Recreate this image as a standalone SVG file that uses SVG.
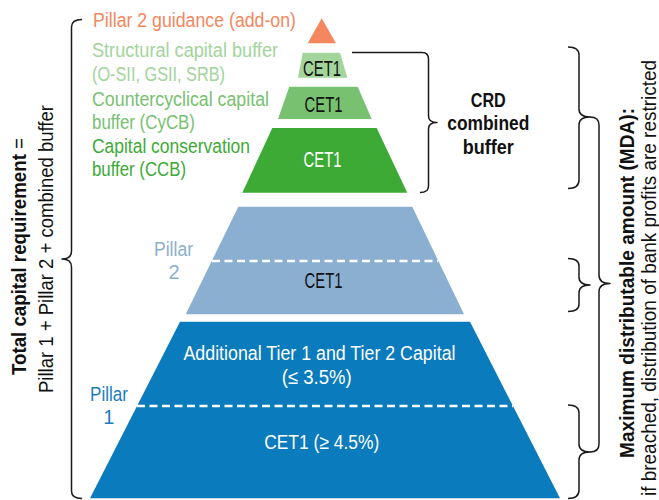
<svg xmlns="http://www.w3.org/2000/svg" width="659" height="500" viewBox="0 0 659 500">
<style>
text{font-family:"Liberation Sans",Arial,sans-serif;font-size:20px}
.c{font-size:22px;text-anchor:middle}
.m{text-anchor:middle}
.b{font-weight:bold}
.r{font-size:20px}
.br{fill:none;stroke:#1a1a1a;stroke-width:1.5;stroke-linejoin:round}
.dash{stroke:#fff;stroke-width:2.5;stroke-dasharray:8 4.5}
</style>
<rect width="659" height="500" fill="#fff"/>
<g id="p2g"><polygon points="321.7,18.3 336,43.3 307.7,43.3" fill="#F5875E"/></g>
<g id="scb"><polygon points="302.7,52.7 340,52.7 347.3,77.7 298,77.7" fill="#A2D49B"/>
<text class="c" x="322" y="75.5" textLength="38" lengthAdjust="spacingAndGlyphs" fill="#111">CET1</text></g>
<g id="cycb"><polygon points="289.3,86.7 357.7,86.7 371.7,119 278,119" fill="#78C170"/>
<text class="c" x="323.5" y="111.5" textLength="38" lengthAdjust="spacingAndGlyphs" fill="#111">CET1</text></g>
<g id="ccb"><polygon points="272.3,128 376.7,128 407.3,192.7 242.3,192.7" fill="#3DAA35"/>
<text class="c" x="322.5" y="167" textLength="38" lengthAdjust="spacingAndGlyphs" fill="#fff">CET1</text></g>
<g id="pillar2"><polygon points="238.3,206.7 412.3,206.7 464,314.3 185.7,314.3" fill="#8BAFD1"/>
<line class="dash" x1="212" y1="261" x2="438" y2="261"/>
<text class="c" x="323.5" y="288" textLength="38" lengthAdjust="spacingAndGlyphs" fill="#111">CET1</text></g>
<g id="pillar1"><polygon points="180,321.7 470,321.7 560,498.3 90,498.3" fill="#0A7BBD"/>
<line class="dash" x1="137" y1="406" x2="513" y2="406"/>
<text class="m" x="319.5" y="359.5" textLength="272" lengthAdjust="spacingAndGlyphs" fill="#fff">Additional Tier 1 and Tier 2 Capital</text>
<text class="m" x="316.7" y="384" textLength="70" lengthAdjust="spacingAndGlyphs" fill="#fff">(≤ 3.5%)</text>
<text class="m" x="321.7" y="448.5" textLength="115" lengthAdjust="spacingAndGlyphs" fill="#fff">CET1 (≥ 4.5%)</text></g>
<g id="labels">
<text x="93" y="27" textLength="203" lengthAdjust="spacingAndGlyphs" fill="#F5875E">Pillar 2 guidance (add-on)</text>
<text x="92" y="57" textLength="186" lengthAdjust="spacingAndGlyphs" fill="#A2D49B">Structural capital buffer</text>
<text x="92" y="81" textLength="133" lengthAdjust="spacingAndGlyphs" fill="#A2D49B">(O-SII, GSII, SRB)</text>
<text x="92" y="105.5" textLength="177" lengthAdjust="spacingAndGlyphs" fill="#78C170">Countercyclical capital</text>
<text x="92" y="129" textLength="103" lengthAdjust="spacingAndGlyphs" fill="#78C170">buffer (CyCB)</text>
<text x="92" y="152.5" textLength="158" lengthAdjust="spacingAndGlyphs" fill="#3DAA35">Capital conservation</text>
<text x="92" y="176" textLength="94" lengthAdjust="spacingAndGlyphs" fill="#3DAA35">buffer (CCB)</text>
<text x="154" y="256" textLength="39" lengthAdjust="spacingAndGlyphs" fill="#8BAFD1">Pillar</text>
<text class="m" x="174" y="279" fill="#8BAFD1">2</text>
<text x="90" y="400.5" textLength="38" lengthAdjust="spacingAndGlyphs" fill="#1A7DBF">Pillar</text>
<text class="m" x="108.7" y="424" fill="#1A7DBF">1</text>
</g>
<g id="crd-label">
<text class="m b" x="488.3" y="106.5" textLength="35" lengthAdjust="spacingAndGlyphs" fill="#111">CRD</text>
<text class="m b" x="488.3" y="130" textLength="82" lengthAdjust="spacingAndGlyphs" fill="#111">combined</text>
<text class="m b" x="488.3" y="154" textLength="51" lengthAdjust="spacingAndGlyphs" fill="#111">buffer</text>
</g>
<g id="total-label">
<text class="r" transform="translate(25.5,375) rotate(-90)" textLength="237" lengthAdjust="spacingAndGlyphs" fill="#111"><tspan font-weight="bold">Total capital requirement</tspan> =</text>
<text class="r" transform="translate(53,393) rotate(-90)" textLength="288" lengthAdjust="spacingAndGlyphs" fill="#111">Pillar 1 + Pillar 2 + combined buffer</text>
</g>
<g id="mda-label">
<text class="r m b" transform="translate(634,283) rotate(-90)" textLength="350" lengthAdjust="spacingAndGlyphs" fill="#111">Maximum distributable amount (MDA):</text>
<text class="r m" transform="translate(656,278) rotate(-90)" textLength="436" lengthAdjust="spacingAndGlyphs" fill="#111">if breached, distribution of bank profits are restricted</text>
</g>
<g id="connectors">
<path class="br" d="M82,19.5 Q71.5,19.5 71.5,27 L71.5,251 Q71.5,259 62,259 Q71.5,259 71.5,267 L71.5,491 Q71.5,498.5 82,498.5"/>
<path class="br" d="M352,52.5 L422,52.5 Q428.5,52.5 428.5,59 L428.5,116 Q428.5,122.5 437,122.5 Q428.5,122.5 428.5,129 L428.5,186 Q428.5,192.5 420,192.5"/>
<path class="br" d="M568,47 Q579,47 579,55 L579,109 Q579,117 590,117 Q579,117 579,125 L579,180 Q579,188.5 568,188.5"/>
<path class="br" d="M568,258.5 Q579,258.5 579,266 L579,277 Q579,285 590,285 Q579,285 579,293 L579,304 Q579,311.5 568,311.5"/>
<path class="br" d="M568,405 Q579,405 579,413 L579,444 Q579,452 590,452 Q579,452 579,460 L579,490 Q579,498.5 568,498.5"/>
<path class="br" d="M590,117 Q599,117 599,125 L599,275 Q599,283.5 610,283.5 Q599,283.5 599,292 L599,444 Q599,452 590,452"/>
</g>
</svg>
